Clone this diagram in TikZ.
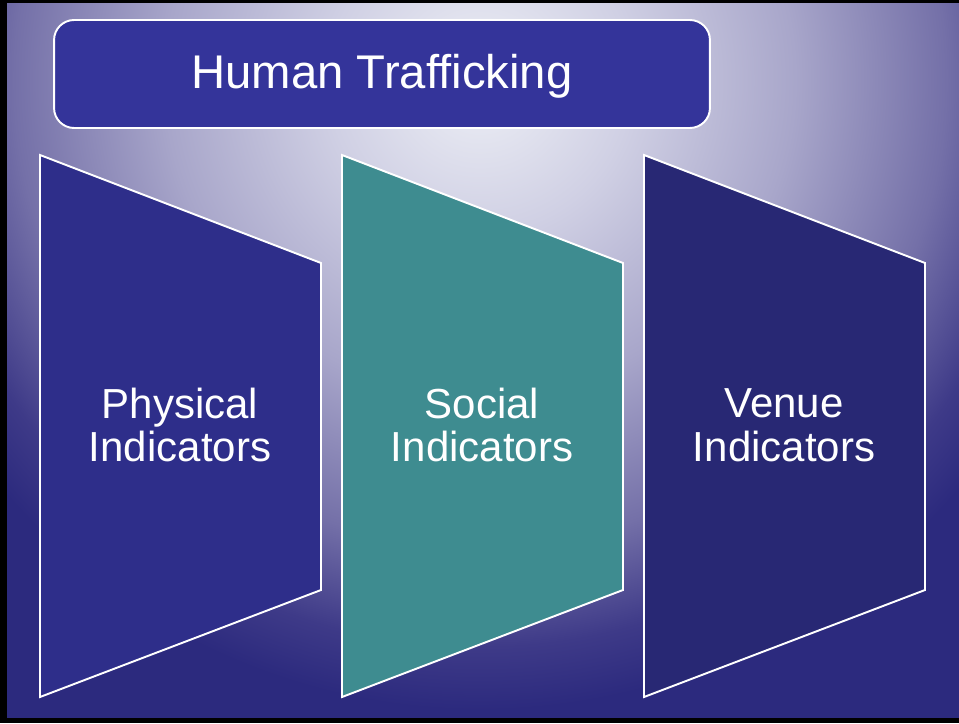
\documentclass[tikz,border=0pt]{standalone}
\usepackage{fontspec}
\setmainfont{Liberation Sans}
\definecolor{bgdark}{HTML}{2C2A7E}
\definecolor{glowA}{HTML}{EEF0F6}
\definecolor{glowB}{HTML}{D0D0E4}
\definecolor{glowC}{HTML}{A8A6CA}
\definecolor{glowD}{HTML}{7470A8}
\definecolor{glowE}{HTML}{3E3A88}
\definecolor{titlefill}{HTML}{34349A}
\definecolor{physfill}{HTML}{2E2E8A}
\definecolor{socfill}{HTML}{3E8C90}
\definecolor{venfill}{HTML}{282874}
\pgfdeclareradialshading{slideglow}{\pgfpoint{0bp}{0bp}}{color(0bp)=(glowA); color(6bp)=(glowB); color(12.5bp)=(glowC); color(18.5bp)=(glowD); color(22.5bp)=(glowE); color(25bp)=(bgdark); color(50bp)=(bgdark)}
\tikzset{
  panel/.style={draw=white, line width=1.1pt, line join=miter},
  paneltext/.style={text=white, align=center, font=\fontsize{23.9pt}{24.9pt}\selectfont},
  titlebox/.style={draw=white, line width=1.1pt, fill=titlefill, rounded corners=0.4cm,
    minimum width=13.12cm, minimum height=2.16cm, text=white,
    font=\fontsize{26.9pt}{30pt}\selectfont, text height=21.8pt, text depth=5.65pt}
}
\begin{document}
\begin{tikzpicture}[x=0.02cm, y=-0.02cm]
\useasboundingbox (0,0) rectangle (959,723);
\fill[black] (0,0) rectangle (959,723);
\begin{scope}
  \clip (7,4) rectangle (959,718);
  \fill[bgdark] (7,4) rectangle (959,718);
  \shade[shading=slideglow] (480,80) circle (12.6cm);
\end{scope}
\node[titlebox] (title) at (382,74) {Human Trafficking};
\foreach \x/\c/\nm/\txt in {40/physfill/phys/Physical, 342/socfill/soc/Social, 644/venfill/ven/Venue}
  {
  \draw[panel, fill=\c] (\x,155) -- ++(281,108) -- ++(0,327) -- ++(-281,107) -- cycle;
  \node[paneltext] (\nm) at (\x+140,425) {\txt\\Indicators};
  }
\end{tikzpicture}
\end{document}
